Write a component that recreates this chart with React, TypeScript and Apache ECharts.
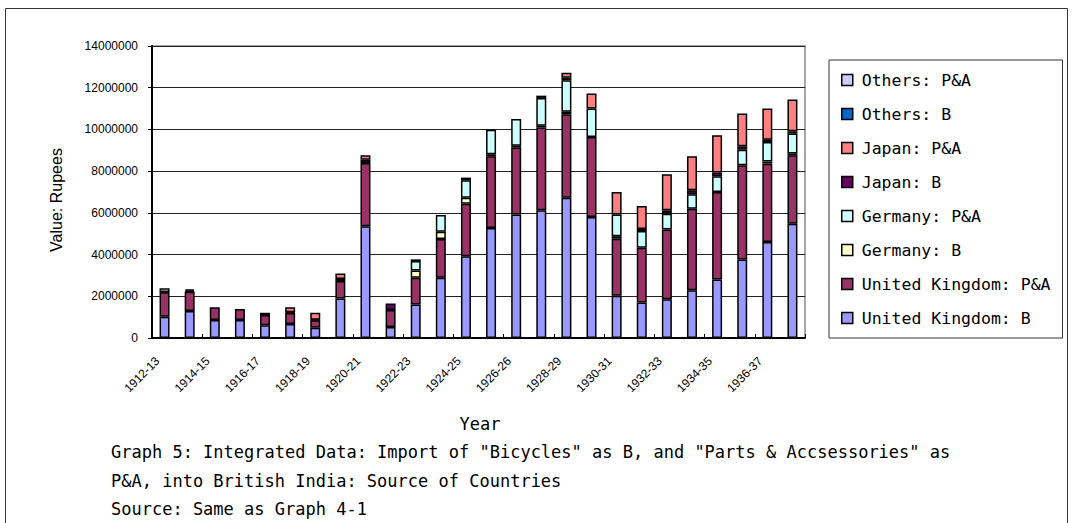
import React, { useEffect, useRef } from "react";
import * as echarts from "echarts";

const categories = [
  "1912-13", "1913-14", "1914-15", "1915-16", "1916-17", "1917-18", "1918-19",
  "1919-20", "1920-21", "1921-22", "1922-23", "1923-24", "1924-25", "1925-26",
  "1926-26", "1927-28", "1928-29", "1929-30", "1930-31", "1931-32", "1932-33",
  "1933-34", "1934-35", "1935-36", "1936-37", "1937-38",
];

const ukB = [
  1020000, 1290000, 860000, 860000, 610000, 670000, 490000, 1890000, 5360000,
  530000, 1610000, 2890000, 3920000, 5270000, 5920000, 6120000, 6730000,
  5800000, 2030000, 1700000, 1860000, 2290000, 2810000, 3760000, 4600000, 5480000,
];
const ukPA = [
  1170000, 930000, 610000, 530000, 490000, 530000, 360000, 840000, 3030000,
  810000, 1280000, 1860000, 2520000, 3440000, 3210000, 3970000, 4000000,
  3840000, 2730000, 2630000, 3340000, 3910000, 4190000, 4520000, 3760000, 3280000,
];
const deB = [
  20000, 50000, 0, 0, 0, 0, 0, 0, 0, 0, 350000, 350000, 290000, 100000, 90000,
  90000, 120000, 0, 120000, 0, 0, 0, 0, 0, 100000, 90000,
];
const dePA = [
  170000, 60000, 0, 0, 0, 0, 0, 0, 0, 0, 450000, 800000, 830000, 1180000,
  1280000, 1330000, 1510000, 1360000, 1040000, 800000, 760000, 690000, 750000,
  750000, 940000, 950000,
];
const jpB = [
  0, 0, 0, 0, 110000, 30000, 30000, 100000, 160000, 310000, 80000, 0, 130000,
  0, 0, 110000, 120000, 0, 0, 100000, 160000, 190000, 190000, 160000, 110000, 110000,
];
const jpPA = [
  0, 0, 0, 0, 0, 240000, 330000, 260000, 210000, 0, 0, 0, 0, 0, 0, 0, 240000,
  720000, 1080000, 1100000, 1730000, 1630000, 1780000, 1570000, 1490000, 1530000,
];
const otB = [
  0, 0, 0, 0, 0, 0, 0, 0, 0, 0, 0, 0, 0, 0, 0, 0, 0, 0, 0, 0, 0, 0, 0, 0, 0, 0,
];
const otPA = [
  0, 0, 0, 0, 0, 0, 0, 0, 0, 0, 0, 0, 0, 0, 0, 0, 0, 0, 0, 0, 0, 0, 0, 0, 0, 0,
];

const seriesNames = [
  "United Kingdom: B",
  "United Kingdom: P&A",
  "Germany: B",
  "Germany: P&A",
  "Japan: B",
  "Japan: P&A",
  "Others: B",
  "Others: P&A",
];
const seriesData = [ukB, ukPA, deB, dePA, jpB, jpPA, otB, otPA];
const seriesColors = [
  "#9999FF", "#993366", "#FFFFCC", "#CCFFFF", "#660066", "#FF8080", "#0066CC", "#CCCCFF",
];

const yTicks = { min: 0, max: 14000000, interval: 2000000 };

const captionLines = [
  'Graph 5: Integrated Data: Import of "Bicycles" as B, and "Parts & Accsessories" as',
  "P&A, into British India: Source of Countries",
  "Source: Same as Graph 4-1",
];

const monoFont = '"DejaVu Sans Mono", monospace';
const arial = '"Liberation Sans", Arial, sans-serif';

export default function App() {
  const ref = useRef<HTMLDivElement>(null);
  useEffect(() => {
    if (!ref.current) return;
    const chart = echarts.init(ref.current, undefined, { renderer: "svg" });
    const series = seriesNames.map((name, i) => ({
      name,
      type: "bar",
      stack: "total",
      barWidth: 10,
      data: seriesData[i].map((v) => (v === 0 ? null : v)),
      itemStyle: { color: seriesColors[i], borderColor: "#000", borderWidth: 1.5 },
    }));
    chart.setOption({
      animation: false,
      backgroundColor: "#fff",
      grid: {
        left: 152,
        top: 46,
        width: 653,
        height: 292,
        show: true,
        borderColor: "#888",
        borderWidth: 1.5,
        backgroundColor: "transparent",
      },
      legend: {
        orient: "vertical",
        left: 829,
        top: 60,
        data: [...seriesNames].reverse(),
        backgroundColor: "#fff",
        borderColor: "#333",
        borderWidth: 1,
        padding: [11, 12, 11, 12],
        itemWidth: 11,
        itemHeight: 11,
        itemGap: 16,
        icon: "rect",
        itemStyle: { borderColor: "#000", borderWidth: 1.5 },
        textStyle: {
          fontFamily: monoFont,
          fontSize: 16.5,
          color: "#000",
          lineHeight: 18,
          padding: [0, 0, 0, 4],
        },
      },
      xAxis: {
        type: "category",
        data: categories,
        axisLine: { lineStyle: { color: "#000", width: 2 } },
        axisTick: { show: true, inside: true, length: 4, lineStyle: { color: "#000" } },
        axisLabel: {
          interval: 1,
          rotate: 45,
          fontFamily: arial,
          fontSize: 12,
          color: "#000",
          margin: 14,
          padding: [0, 10, 0, 0],
        },
      },
      yAxis: {
        type: "value",
        min: yTicks.min,
        max: yTicks.max,
        interval: yTicks.interval,
        axisLine: { show: true, lineStyle: { color: "#000", width: 2 } },
        axisTick: { show: true, length: 4, lineStyle: { color: "#000" } },
        axisLabel: {
          fontFamily: arial,
          fontSize: 12,
          color: "#000",
          margin: 14,
          formatter: (v: number) => String(v),
        },
        splitLine: { lineStyle: { color: "#222", width: 1 } },
      },
      series,
      graphic: [
        {
          type: "rect",
          silent: true,
          z: -10,
          shape: { x: 5.5, y: 8.5, width: 1062, height: 530 },
          style: { fill: "none", stroke: "#333", lineWidth: 1 },
        },
        {
          type: "text",
          x: 56,
          y: 200,
          rotation: Math.PI / 2,
          style: {
            text: "Value: Rupees",
            fontFamily: arial,
            fontSize: 16,
            fill: "#000",
            align: "center",
            verticalAlign: "middle",
          },
        },
        {
          type: "text",
          x: 480,
          y: 424,
          style: {
            text: "Year",
            fontFamily: monoFont,
            fontSize: 17,
            fill: "#000",
            align: "center",
            verticalAlign: "middle",
          },
        },
        ...captionLines.map((t, i) => ({
          type: "text",
          x: 111,
          y: 452 + i * 28.5,
          style: {
            text: t,
            fontFamily: monoFont,
            fontSize: 17,
            fill: "#000",
            align: "left",
            verticalAlign: "middle",
          },
        })),
      ],
    });
    return () => chart.dispose();
  }, []);
  return (
    <div
      ref={ref}
      style={{ position: "fixed", left: 0, top: 0, width: 1073, height: 523 }}
    />
  );
}
